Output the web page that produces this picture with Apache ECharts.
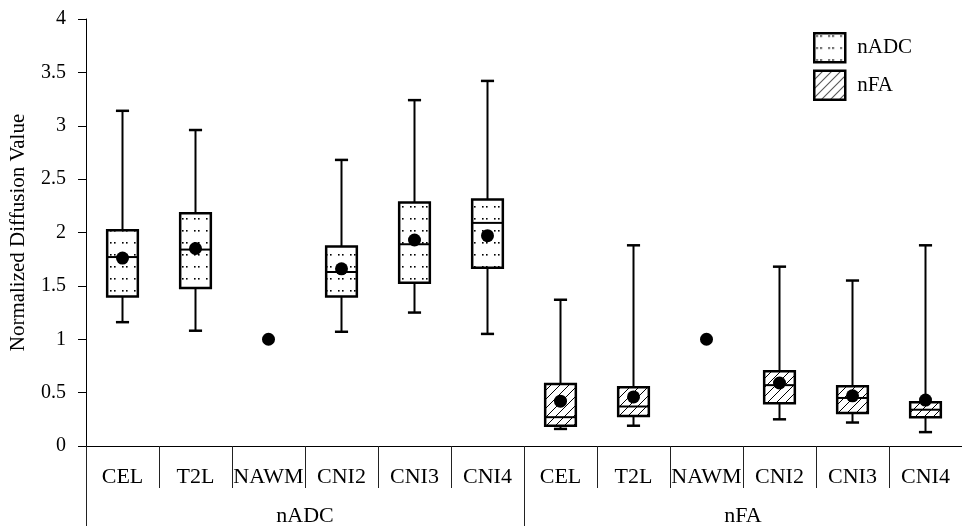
<!DOCTYPE html>
<html>
<head>
<meta charset="utf-8">
<script src="https://cdn.jsdelivr.net/npm/echarts@6/dist/echarts.min.js"></script>
<style>
html,body{margin:0;padding:0;background:#fff}
#chart{width:962px;height:527px}
</style>
</head>
<body>
<div id="chart"></div>
<script>
var categories = ['CEL','T2L','NAWM','CNI2','CNI3','CNI4','CEL','T2L','NAWM','CNI2','CNI3','CNI4'];
var groups = ['nADC','nFA'];

// nADC box stats (NAWM has no spread, only the mean dot)
var adcMin = [1.16, 1.08, null, 1.07, 1.25, 1.05];
var adcQ1  = [1.40, 1.48, null, 1.40, 1.53, 1.67];
var adcMed = [1.77, 1.84, null, 1.63, 1.89, 2.09];
var adcQ3  = [2.02, 2.18, null, 1.87, 2.28, 2.31];
var adcMax = [3.14, 2.96, null, 2.68, 3.24, 3.42];

// nFA box stats
var faMin = [0.16, 0.19, null, 0.25, 0.22, 0.13];
var faQ1  = [0.19, 0.28, null, 0.40, 0.31, 0.27];
var faMed = [0.27, 0.37, null, 0.57, 0.45, 0.34];
var faQ3  = [0.58, 0.55, null, 0.70, 0.56, 0.41];
var faMax = [1.37, 1.88, null, 1.68, 1.55, 1.88];

// mean dots, all 12 categories
var means = [1.76, 1.85, 1.00, 1.66, 1.93, 1.97, 0.42, 0.46, 1.00, 0.59, 0.47, 0.43];

var FONT = 'Liberation Serif';

function makeDots(){
	var c = document.createElement('canvas');
	c.width = 12; c.height = 12;
	var g = c.getContext('2d');
	g.fillStyle = '#fff'; g.fillRect(0,0,12,12);
	g.fillStyle = '#000';
	g.fillRect(2,2,1.6,1.6);
	g.fillRect(6,2,1.6,1.6);
	return c;
}
function makeHatch(){
	var c = document.createElement('canvas');
	c.width = 9; c.height = 9;
	var g = c.getContext('2d');
	g.fillStyle = '#fff'; g.fillRect(0,0,9,9);
	g.strokeStyle = '#000'; g.lineWidth = 1;
	g.beginPath();
	g.moveTo(0,9); g.lineTo(9,0);
	g.moveTo(-1,1); g.lineTo(1,-1);
	g.moveTo(8,10); g.lineTo(10,8);
	g.stroke();
	return c;
}
var fills = {
	nADC: {image: makeDots(), repeat: 'repeat'},
	nFA: {image: makeHatch(), repeat: 'repeat'}
};

function boxRows(mn, q1, md, q3, mx, offset){
	var rows = [];
	for (var i = 0; i < mn.length; i++){
		if (mn[i] == null) continue;
		rows.push([i + offset, mn[i], q1[i], md[i], q3[i], mx[i]]);
	}
	return rows;
}
var meanData = means.map(function(v, i){ return [i, v]; });

function renderBox(params, api){
	var x = api.value(0);
	var p = [1,2,3,4,5].map(function(d){ return api.coord([x, api.value(d)]); });
	var cx = p[0][0];
	var w = api.size([1, 0])[0];
	var bw = w * 0.42, cw = w * 0.18;
	var line = function(x1,y1,x2,y2,lw){
		return {type:'line', shape:{x1:x1,y1:y1,x2:x2,y2:y2}, style:{stroke:'#000', lineWidth:lw}};
	};
	return {
		type: 'group',
		children: [
			line(cx, p[0][1], cx, p[1][1], 2),
			line(cx, p[3][1], cx, p[4][1], 2),
			line(cx - cw/2, p[0][1], cx + cw/2, p[0][1], 2.5),
			line(cx - cw/2, p[4][1], cx + cw/2, p[4][1], 2.5),
			{type:'rect', shape:{x:cx - bw/2, y:p[3][1], width:bw, height:p[1][1] - p[3][1]},
				style:{fill: fills[params.seriesName], stroke:'#000', lineWidth:2.5}},
			line(cx - bw/2, p[2][1], cx + bw/2, p[2][1], 2)
		]
	};
}

var chart = echarts.init(document.getElementById('chart'));
var option = {
	animation: false,
	backgroundColor: '#fff',
	grid: {left: 85, top: 19, width: 888, height: 428},
	legend: {
		orient: 'vertical',
		left: 808, top: 27,
		itemWidth: 31, itemHeight: 29, itemGap: 6,
		icon: 'rect',
		data: ['nADC','nFA'],
		itemStyle: {borderColor: '#000', borderWidth: 2.5},
		textStyle: {fontFamily: FONT, fontSize: 21, color: '#000', padding: [0,0,0,7]}
	},
	xAxis: [
		{
			type: 'category',
			data: categories,
			axisLine: {show: true, lineStyle: {color: '#000', width: 1}},
			axisTick: {show: true, interval: 0, length: 42, lineStyle: {color: '#222', width: 1}},
			axisLabel: {interval: 0, margin: 20, fontFamily: FONT, fontSize: 22, color: '#000'},
			splitLine: {show: false}
		},
		{
			type: 'category',
			data: groups,
			position: 'bottom',
			axisLine: {show: false},
			axisTick: {show: true, interval: 0, length: 80, lineStyle: {color: '#222', width: 1}},
			axisLabel: {interval: 0, margin: 59, fontFamily: FONT, fontSize: 22, color: '#000'},
			splitLine: {show: false}
		}
	],
	yAxis: {
		type: 'value',
		min: 0, max: 4, interval: 0.5,
		name: 'Normalized Diffusion Value',
		nameLocation: 'middle',
		nameRotate: 90,
		nameGap: 57,
		nameTextStyle: {fontFamily: FONT, fontSize: 21, color: '#000'},
		axisLine: {show: true, lineStyle: {color: '#000', width: 1}},
		axisTick: {show: true, length: 8, lineStyle: {color: '#000', width: 1}},
		axisLabel: {margin: 20, fontFamily: FONT, fontSize: 20, color: '#000'},
		splitLine: {show: false}
	},
	series: [
		{
			name: 'nADC',
			type: 'custom',
			renderItem: renderBox,
			itemStyle: {color: fills.nADC},
			encode: {x: 0, y: [1,2,3,4,5]},
			data: boxRows(adcMin, adcQ1, adcMed, adcQ3, adcMax, 0)
		},
		{
			name: 'nFA',
			type: 'custom',
			renderItem: renderBox,
			itemStyle: {color: fills.nFA},
			encode: {x: 0, y: [1,2,3,4,5]},
			data: boxRows(faMin, faQ1, faMed, faQ3, faMax, 6)
		},
		{
			name: 'mean',
			type: 'scatter',
			symbol: 'circle',
			symbolSize: 13,
			itemStyle: {color: '#000', opacity: 1},
			z: 5,
			data: meanData
		}
	]
};
chart.setOption(option);
</script>
</body>
</html>
